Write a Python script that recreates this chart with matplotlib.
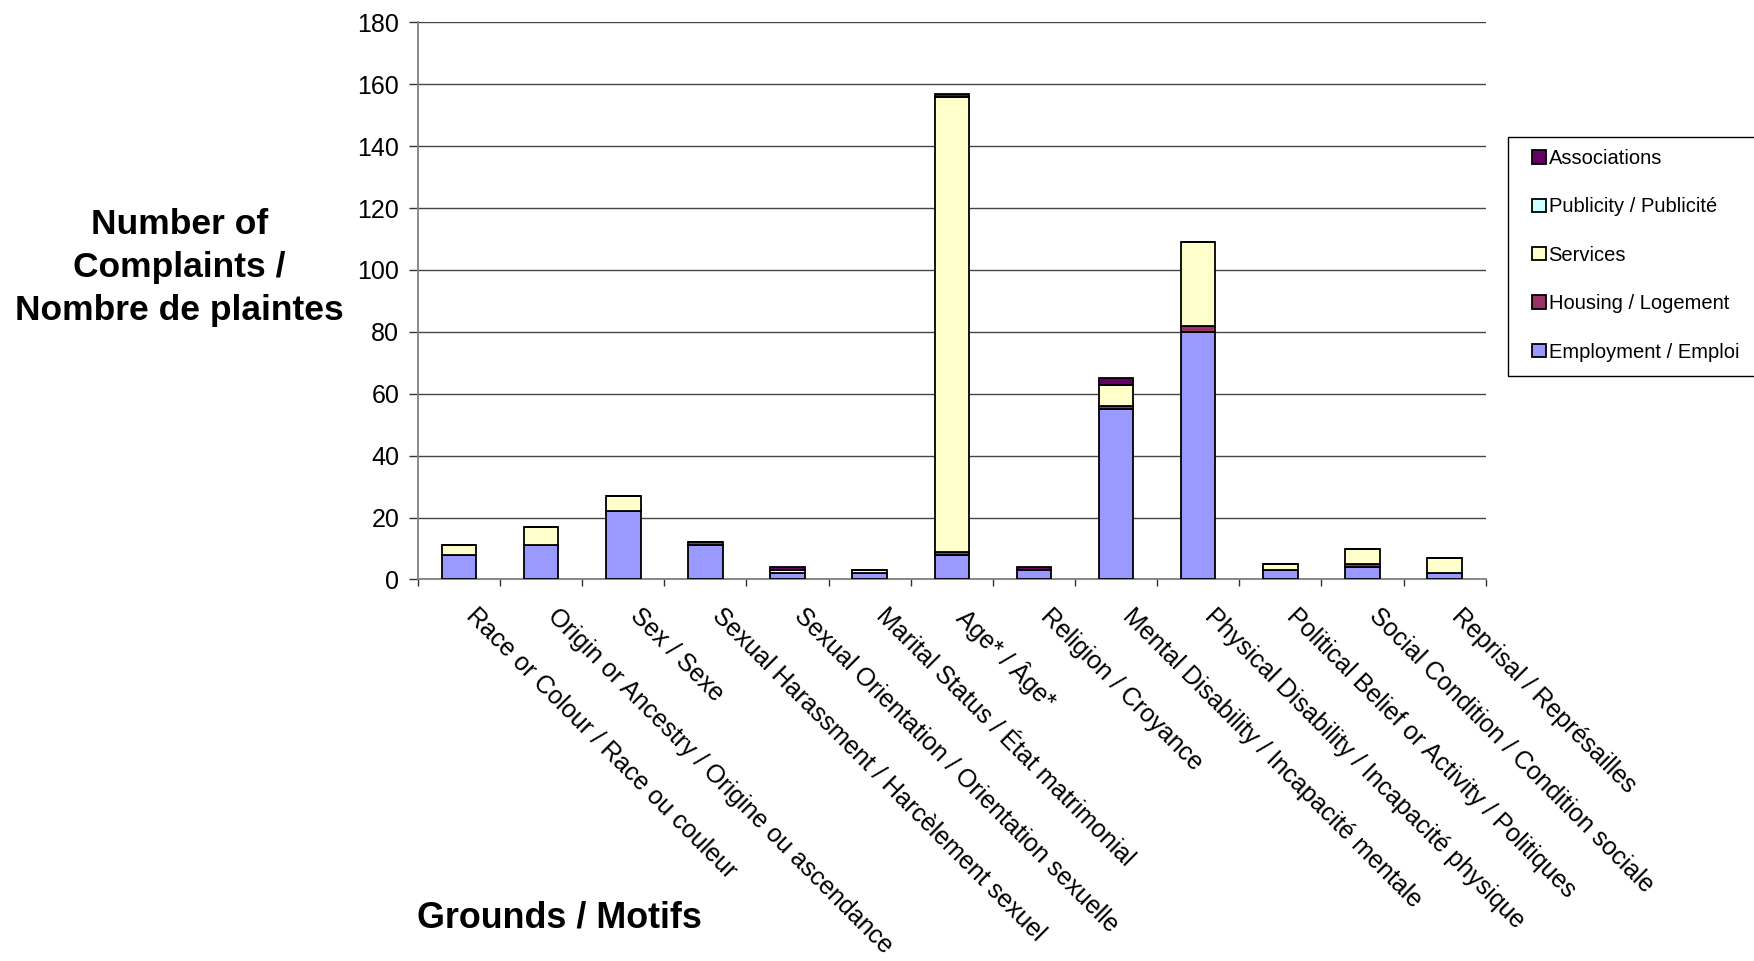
import matplotlib.pyplot as plt
import matplotlib.transforms as mtransforms
from matplotlib.patches import Rectangle
import numpy as np

plt.rcParams['font.family'] = ['Liberation Sans', 'DejaVu Sans']

# complaints by ground, split by area
categories = [
    "Race or Colour / Race ou couleur",
    "Origin or Ancestry / Origine ou ascendance",
    "Sex / Sexe",
    "Sexual Harassment / Harcèlement sexuel",
    "Sexual Orientation / Orientation sexuelle",
    "Marital Status / État matrimonial",
    "Age* / Âge*",
    "Religion / Croyance",
    "Mental Disability / Incapacité mentale",
    "Physical Disability / Incapacité physique",
    "Political Belief or Activity / Politiques",
    "Social Condition / Condition sociale",
    "Reprisal / Représailles",
]
employment = [8, 11, 22, 11, 2, 2, 8, 3, 55, 80, 3, 4, 2]
housing = [0, 0, 0, 1, 0, 0, 1, 0, 1, 2, 0, 1, 0]
services = [3, 6, 5, 0, 1, 1, 147, 0, 7, 27, 2, 5, 5]
publicity = [0, 0, 0, 0, 0, 0, 0, 0, 0, 0, 0, 0, 0]
associations = [0, 0, 0, 0, 1, 0, 1, 1, 2, 0, 0, 0, 0]

series = [
    ("Employment / Emploi", employment, "#9999FF"),
    ("Housing / Logement", housing, "#993366"),
    ("Services", services, "#FFFFCC"),
    ("Publicity / Publicité", publicity, "#CCFFFF"),
    ("Associations", associations, "#660066"),
]

fig = plt.figure(figsize=(17.54, 9.61), dpi=100)
ax = fig.add_axes([0.2383, 0.397, 0.6087, 0.5797])

x = np.arange(len(categories))
bottom = np.zeros(len(categories))
handles = []
for name, vals, col in series:
    b = ax.bar(x, vals, width=0.42, bottom=bottom, color=col,
               edgecolor='black', linewidth=1.3, label=name, zorder=3)
    handles.append(b)
    bottom = bottom + np.array(vals)

ax.set_xlim(-0.5, len(categories) - 0.5)
ax.set_ylim(0, 180)
ax.set_yticks(range(0, 181, 20))
ax.yaxis.grid(True, color='#444444', linewidth=1.0, zorder=0)

for s in ['top', 'right']:
    ax.spines[s].set_visible(False)
ax.spines['left'].set_color('#808080')
ax.spines['bottom'].set_color('#808080')
ax.spines['left'].set_linewidth(1.3)
ax.spines['bottom'].set_linewidth(1.3)

ax.tick_params(axis='y', labelsize=18, length=6.5, width=1, color='#333333', pad=7)

# labels at bar centres, tick marks between the bars
ax.set_xticks(x)
ax.set_xticklabels(categories, rotation=-45, ha='left', va='top',
                   rotation_mode='anchor', fontsize=18)
ax.tick_params(axis='x', which='major', length=0, pad=14)
ax.set_xticks(np.arange(-0.5, len(categories), 1), minor=True)
ax.tick_params(axis='x', which='minor', length=5, width=1, color='#333333')

offset = mtransforms.ScaledTranslation(19 / 100, -5 / 100, fig.dpi_scale_trans)
for lbl in ax.get_xticklabels():
    lbl.set_transform(lbl.get_transform() + offset)

fig.text(0.1023, 0.7217, "Number of\nComplaints /\nNombre de plaintes",
         ha='center', va='center', fontsize=25.5, fontweight='bold',
         linespacing=1.38)
fig.text(0.2378, 0.045, "Grounds / Motifs", ha='left', va='center',
         fontsize=25.8, fontweight='bold')

# legend box runs off the right edge of the figure
fig.patches.append(Rectangle((0.8597, 0.6087), 0.16, 0.2492,
                             transform=fig.transFigure, facecolor='white',
                             edgecolor='black', linewidth=1.0, zorder=1))
leg = fig.legend(handles[::-1], [s[0] for s in series[::-1]],
                 loc='upper left', bbox_to_anchor=(0.8737, 0.845),
                 borderaxespad=0, fontsize=14.5, frameon=False,
                 labelspacing=1.46, handlelength=0.65,
                 handleheight=0.65, handletextpad=0.15, borderpad=0)

fig.savefig("out.png", dpi=100)
